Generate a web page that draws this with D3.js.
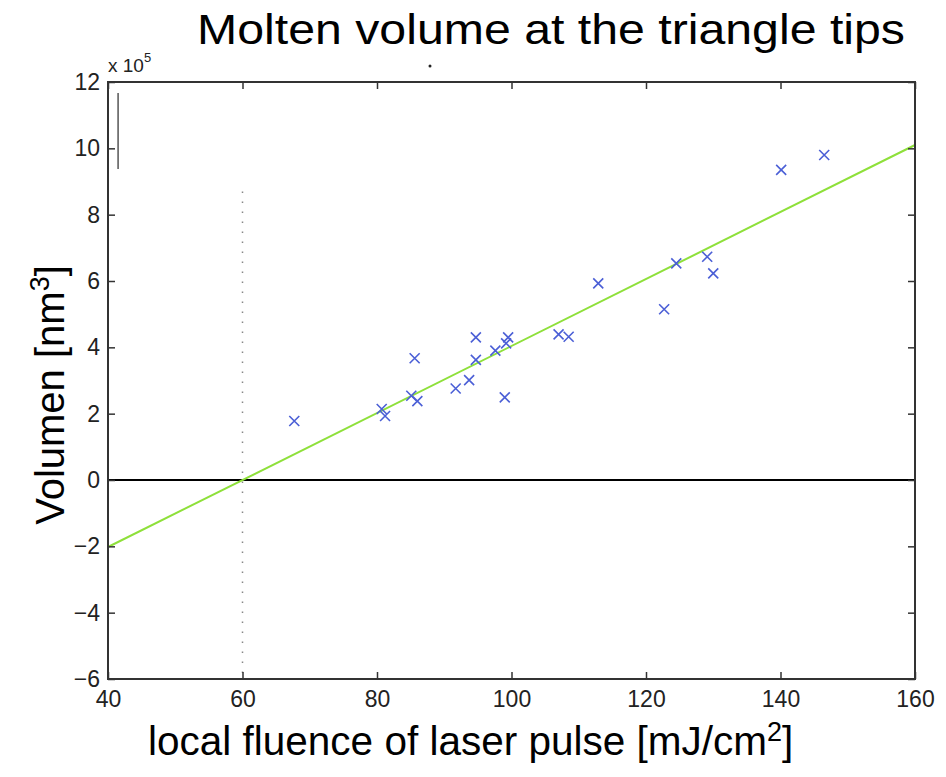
<!DOCTYPE html>
<html>
<head>
<meta charset="utf-8">
<script src="https://cdn.jsdelivr.net/npm/d3@7"></script>
<style>
  body { margin: 0; background: #fff; }
  svg { display: block; font-family: "Liberation Sans", Arial, sans-serif; }
</style>
</head>
<body>
<svg id="chart" width="946" height="777"></svg>
<script>
// fluence [mJ/cm2] vs molten volume [x 1e5 nm3]
const fluence = [67.7, 80.7, 81.2, 85.1, 86.0, 85.6, 91.7, 93.7, 94.7, 94.7, 97.6, 99.2, 99.5, 99.0,
                 107.0, 108.5, 112.9, 122.7, 124.5, 129.1, 130.0, 140.1, 146.5];
const volume  = [1.78, 2.14, 1.93, 2.54, 2.38, 3.67, 2.76, 3.01, 3.62, 4.30, 3.90, 4.12, 4.30, 2.49,
                 4.39, 4.32, 5.93, 5.15, 6.53, 6.73, 6.23, 9.35, 9.80];
// linear fit endpoints
const fitX = [40, 160];
const fitY = [-2.02, 10.1];
const xTicks = [40, 60, 80, 100, 120, 140, 160];
const yTicks = [-6, -4, -2, 0, 2, 4, 6, 8, 10, 12];
const threshold = 60;

const M = { left: 108, right: 31, top: 82, bottom: 98 };
const W = 946, H = 777;
const innerW = W - M.left - M.right;
const innerH = H - M.top - M.bottom;

const svg = d3.select("#chart");
const g = svg.append("g").attr("transform", `translate(${M.left},${M.top})`);

const x = d3.scaleLinear([40, 160], [0, innerW]);
const y = d3.scaleLinear([-6, 12], [innerH, 0]);

// threshold marker (dotted)
g.append("line")
  .attr("x1", x(threshold)).attr("x2", x(threshold))
  .attr("y1", y(8.7)).attr("y2", innerH)
  .attr("stroke", "#888").attr("stroke-width", 1.5)
  .attr("stroke-dasharray", "1.5 8.5");

// zero line
g.append("line")
  .attr("x1", 0).attr("x2", innerW)
  .attr("y1", y(0)).attr("y2", y(0))
  .attr("stroke", "#000").attr("stroke-width", 2);

// fit line
g.append("path")
  .datum(fitX.map((v, i) => [v, fitY[i]]))
  .attr("d", d3.line().x(d => x(d[0])).y(d => y(d[1])))
  .attr("fill", "none").attr("stroke", "#8ee03a").attr("stroke-width", 2);

// data crosses
const s = 5;
const pts = g.append("g").selectAll("g").data(fluence.map((v, i) => [v, volume[i]])).join("g")
  .attr("transform", d => `translate(${x(d[0])},${y(d[1])})`);
pts.append("path")
  .attr("d", `M${-s},${-s}L${s},${s}M${-s},${s}L${s},${-s}`)
  .attr("stroke", "#4b5fd6").attr("stroke-width", 1.6).attr("fill", "none");

// short stray bar near top-left
g.append("line")
  .attr("x1", x(41.5)).attr("x2", x(41.5))
  .attr("y1", y(11.67)).attr("y2", y(9.38))
  .attr("stroke", "#555").attr("stroke-width", 1.5);

// axes (inward ticks on all sides, MATLAB style)
const axisStyle = sel => {
  sel.select(".domain").remove();
  sel.selectAll(".tick line").attr("stroke", "#333").attr("stroke-width", 1.5);
  sel.selectAll(".tick text").attr("font-size", 23).attr("fill", "#222")
    .attr("font-family", "Liberation Sans, Arial, sans-serif");
};
const fmt = d3.format("d");
const minus = d => fmt(d).replace("-", "\u2212");

g.append("g").attr("transform", `translate(0,${innerH})`)
  .call(d3.axisBottom(x).tickValues(xTicks).tickSize(-7).tickPadding(12).tickFormat(fmt))
  .call(axisStyle);
g.append("g")
  .call(d3.axisTop(x).tickValues(xTicks).tickSize(-7).tickFormat(""))
  .call(axisStyle);
g.append("g")
  .call(d3.axisLeft(y).tickValues(yTicks).tickSize(-7).tickPadding(8).tickFormat(minus))
  .call(axisStyle);
g.append("g").attr("transform", `translate(${innerW},0)`)
  .call(d3.axisRight(y).tickValues(yTicks).tickSize(-7).tickFormat(""))
  .call(axisStyle);

// frame
g.append("rect")
  .attr("width", innerW).attr("height", innerH)
  .attr("fill", "none").attr("stroke", "#333").attr("stroke-width", 2);

// exponent
const ex = svg.append("text").attr("x", 108).attr("y", 72)
  .attr("font-size", 19).attr("fill", "#222");
ex.append("tspan").text("x 10");
ex.append("tspan").attr("dy", -10).attr("font-size", 13).text("5");

// stray dot below title
svg.append("circle").attr("cx", 430).attr("cy", 66).attr("r", 1.5).attr("fill", "#222");

// title and labels
svg.append("text").attr("x", 197).attr("y", 44)
  .attr("font-size", 42).attr("fill", "#000")
  .attr("textLength", 708).attr("lengthAdjust", "spacingAndGlyphs")
  .text("Molten volume at the triangle tips");

const xl = svg.append("text").attr("x", 148).attr("y", 755)
  .attr("font-size", 40.5).attr("fill", "#000");
xl.append("tspan").text("local fluence of laser pulse [mJ/cm");
xl.append("tspan").attr("dy", -14).attr("font-size", 27).text("2");
xl.append("tspan").attr("dy", 14).text("]");

const yl = svg.append("text")
  .attr("transform", "translate(64,395) rotate(-90)")
  .attr("text-anchor", "middle").attr("font-size", 40).attr("fill", "#000");
yl.append("tspan").text("Volumen [nm");
yl.append("tspan").attr("dy", -15).attr("font-size", 27).text("3");
yl.append("tspan").attr("dy", 15).text("]");
</script>
</body>
</html>
